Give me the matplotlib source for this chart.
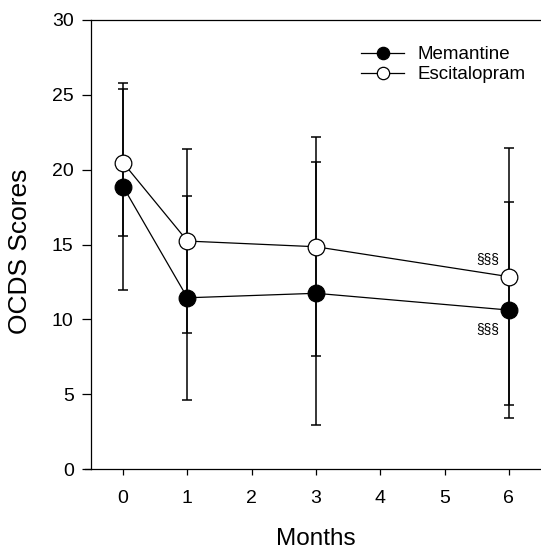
import matplotlib
matplotlib.use("Agg")
import matplotlib.pyplot as plt
from matplotlib.lines import Line2D

plt.rcParams['font.family'] = ['Liberation Sans', 'DejaVu Sans']

months = [0, 1, 3, 6]
memantine = [18.86, 11.44, 11.74, 10.62]
memantine_sd = [6.9, 6.8, 8.8, 7.2]
escitalopram = [20.46, 15.23, 14.85, 12.85]
escitalopram_sd = [4.92, 6.12, 7.3, 8.6]
xticks = [0, 1, 2, 3, 4, 5, 6]
yticks = [0, 5, 10, 15, 20, 25, 30]
sig_label = "§§§"

W, H = 541, 550
fig = plt.figure(figsize=(W / 100, H / 100), dpi=100)
ax = fig.add_axes([91 / W, (550 - 469) / H, 1 - 91 / W, (469 - 20) / H])

ax.errorbar(months, memantine, yerr=memantine_sd, fmt='none', ecolor='black',
            elinewidth=1.1, capsize=3.6, capthick=1.1, zorder=2)
ax.errorbar(months, escitalopram, yerr=escitalopram_sd, fmt='none', ecolor='black',
            elinewidth=1.1, capsize=3.6, capthick=1.1, zorder=2)
ax.plot(months, memantine, '-', color='black', lw=0.9, marker='o', ms=12,
        mfc='black', mec='black', mew=0.9, zorder=3, label='Memantine')
ax.plot(months, escitalopram, '-', color='black', lw=0.9, marker='o', ms=12,
        mfc='white', mec='black', mew=0.9, zorder=3, label='Escitalopram')

ax.text(5.67, 14.0, sig_label, fontsize=10, ha='center', va='center')
ax.text(5.67, 9.35, sig_label, fontsize=10, ha='center', va='center')

ax.set_xlim(-0.5, 6.5)
ax.set_ylim(0, 30)
ax.set_xticks(xticks)
ax.set_yticks(yticks)
ax.tick_params(axis='y', direction='out', length=6.5, width=0.9, pad=6, labelsize=14)
ax.tick_params(axis='x', direction='out', length=4, width=0.9, pad=11, labelsize=14)
ax.spines['right'].set_visible(False)
for s in ['left', 'bottom', 'top']:
    ax.spines[s].set_linewidth(0.9)

# bottom axis extends slightly left of y axis
ax.add_line(Line2D([-0.6, -0.5], [0, 0], color='black', lw=0.9, clip_on=False))

fig.text(316 / W, 1 - 545 / H, 'Months', fontsize=17.5, ha='center', va='baseline')
fig.text(27.5 / W, 1 - 251 / H, 'OCDS Scores', fontsize=19, ha='center', va='baseline',
         rotation=90, rotation_mode='anchor')

leg = ax.legend(loc='upper left', bbox_to_anchor=(361 / W, 1 - 46 / H),
                bbox_transform=fig.transFigure, frameon=False, fontsize=13.5,
                handlelength=2.3, handletextpad=0.7, labelspacing=0.15,
                borderpad=0, borderaxespad=0, markerscale=0.74)

fig.savefig('out.png', dpi=100)
